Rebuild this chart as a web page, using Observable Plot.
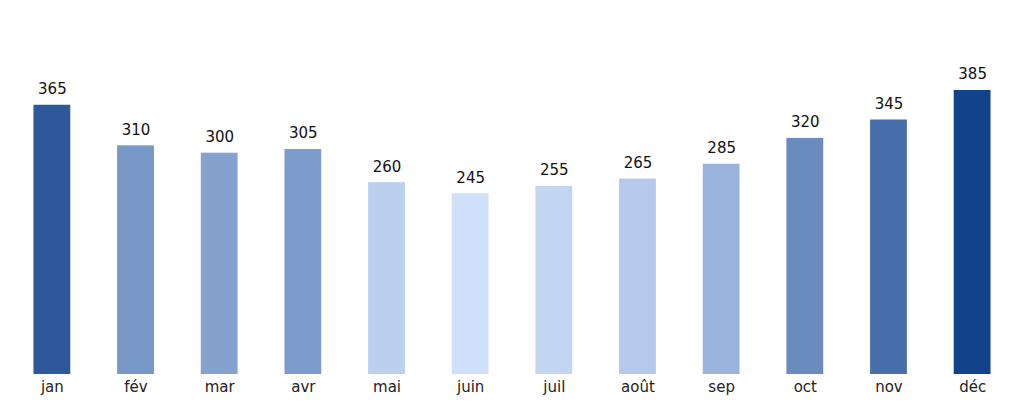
<!DOCTYPE html>
<html>
<head>
<meta charset="utf-8">
<script src="https://cdn.jsdelivr.net/npm/d3@7"></script>
<script src="https://cdn.jsdelivr.net/npm/@observablehq/plot@0.6"></script>
<style>
  html, body { margin: 0; padding: 0; background: #fff; }
  #chart svg { display: block; }
</style>
</head>
<body>
<div id="chart"></div>
<script>
const months = ["jan", "fév", "mar", "avr", "mai", "juin", "juil", "août", "sep", "oct", "nov", "déc"];
const values = [365, 310, 300, 305, 260, 245, 255, 265, 285, 320, 345, 385];
const colorRange = ["#cfe0fb", "#12428a"];

const data = months.map((m, i) => ({month: m, value: values[i]}));

const chart = Plot.plot({
  width: 1024,
  height: 404,
  marginTop: 90,
  marginBottom: 30,
  marginLeft: 0,
  marginRight: 0,
  style: {fontFamily: "DejaVu Sans", fontSize: "15px", color: "#222", background: "#fff"},
  x: {domain: months, paddingInner: 0.56, paddingOuter: 0.40, round: false, label: null, tickSize: 0, tickPadding: 7},
  y: {domain: [0, 385], axis: null},
  color: {type: "linear", domain: [245, 385], range: colorRange, interpolate: "rgb"},
  marks: [
    Plot.barY(data, {x: "month", y: "value", fill: "value"}),
    Plot.text(data, {x: "month", y: "value", text: d => String(d.value), dy: -16, fill: "#111", fontSize: 15})
  ]
});
document.getElementById("chart").appendChild(chart);
</script>
</body>
</html>
